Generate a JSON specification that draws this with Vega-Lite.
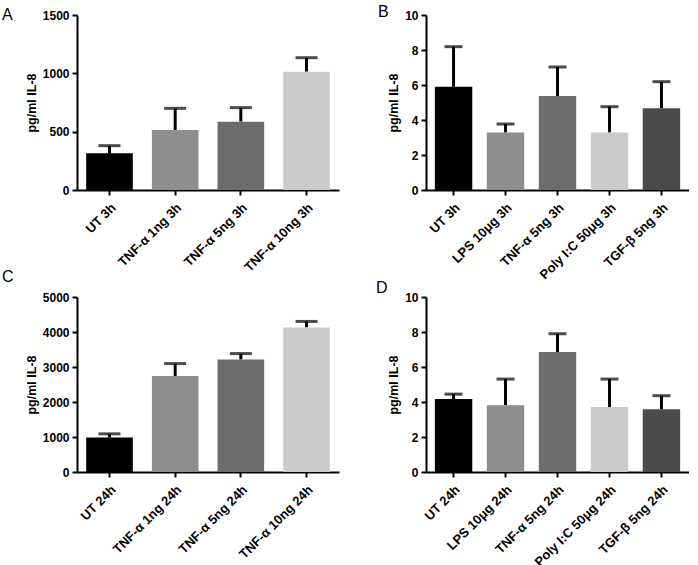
{
  "$schema": "https://vega.github.io/schema/vega-lite/v6.json",
  "padding": {"left": 2, "top": 4, "right": 0, "bottom": 0},
  "background": "white",
  "spacing": {"row": -13, "column": 37},
  "config": {
    "font": "Liberation Sans",
    "view": {"stroke": null},
    "axis": {
      "domainColor": "black", "domainWidth": 2, "tickColor": "black", "tickWidth": 2, "tickSize": 5,
      "labelFont": "Liberation Sans", "labelFontWeight": "bold", "labelFontSize": 12, "labelColor": "black",
      "labelOverlap": false, "labelPadding": 3,
      "titleFont": "Liberation Sans", "titleFontWeight": "bold", "titleFontSize": 12.5, "titleColor": "black",
      "grid": false
    },
    "axisX": {"labelFontSize": 13, "labelPadding": 6},
    "title": {"font": "Liberation Sans", "fontWeight": "normal", "fontSize": 16, "color": "black", "anchor": "start", "frame": "group", "offset": -14}
  },
  "datasets": {
    "A": [
      {"label": "UT 3h", "mean": 314, "upper": 380},
      {"label": "TNF-α 1ng 3h", "mean": 514, "upper": 700},
      {"label": "TNF-α 5ng 3h", "mean": 586, "upper": 706},
      {"label": "TNF-α 10ng 3h", "mean": 1014, "upper": 1134}
    ],
    "B": [
      {"label": "UT 3h", "mean": 5.9, "upper": 8.19},
      {"label": "LPS 10μg 3h", "mean": 3.28, "upper": 3.77},
      {"label": "TNF-α 5ng 3h", "mean": 5.37, "upper": 7.03},
      {"label": "Poly I:C 50μg 3h", "mean": 3.28, "upper": 4.76},
      {"label": "TGF-β 5ng 3h", "mean": 4.67, "upper": 6.19}
    ],
    "C": [
      {"label": "UT 24h", "mean": 985, "upper": 1090},
      {"label": "TNF-α 1ng 24h", "mean": 2744, "upper": 3098},
      {"label": "TNF-α 5ng 24h", "mean": 3212, "upper": 3384},
      {"label": "TNF-α 10ng 24h", "mean": 4130, "upper": 4302}
    ],
    "D": [
      {"label": "UT 24h", "mean": 4.17, "upper": 4.45},
      {"label": "LPS 10μg 24h", "mean": 3.82, "upper": 5.31},
      {"label": "TNF-α 5ng 24h", "mean": 6.86, "upper": 7.9},
      {"label": "Poly I:C 50μg 24h", "mean": 3.71, "upper": 5.31},
      {"label": "TGF-β 5ng 24h", "mean": 3.58, "upper": 4.36}
    ]
  },
  "columns": 2,
  "resolve": {"scale": {"color": "independent", "x": "independent", "y": "independent"}},
  "concat": [
    {
      "width": 262, "height": 175,
      "title": {"text": "A", "dx": -75, "offset": -14},
      "data": {"name": "A"},
      "encoding": {
        "x": {"field": "label", "type": "nominal", "sort": null, "title": null,
              "scale": {"paddingInner": 0.29, "paddingOuter": 0.14},
              "axis": {"labelAngle": -45}},
        "y": {"field": "mean", "type": "quantitative", "title": "pg/ml IL-8",
              "scale": {"domain": [0, 1500], "nice": false},
              "axis": {"values": [0, 500, 1000, 1500], "format": "d"}}
      },
      "layer": [
        {"mark": {"type": "rule", "strokeWidth": 3, "color": "black"},
         "encoding": {"y2": {"field": "upper"}}},
        {"mark": {"type": "tick", "thickness": 3, "size": 22, "color": "black"},
         "encoding": {"y": {"field": "upper", "type": "quantitative", "title": "pg/ml IL-8",
              "scale": {"domain": [0, 1500], "nice": false},
              "axis": {"values": [0, 500, 1000, 1500], "format": "d"}}}},
        {"mark": {"type": "bar"},
         "encoding": {
           "color": {"field": "label", "type": "nominal", "legend": null, "sort": null,
                     "scale": {"domain": ["UT 3h", "TNF-α 1ng 3h", "TNF-α 5ng 3h", "TNF-α 10ng 3h"],
                               "range": ["#000000", "#8e8e8e", "#6c6c6c", "#cbcbcb"]}}
         }}
      ]
    },
    {
      "width": 263, "height": 175,
      "title": {"text": "B", "dx": -48, "offset": -11},
      "data": {"name": "B"},
      "encoding": {
        "x": {"field": "label", "type": "nominal", "sort": null, "title": null,
              "scale": {"paddingInner": 0.28, "paddingOuter": 0.17},
              "axis": {"labelAngle": -45}},
        "y": {"field": "mean", "type": "quantitative", "title": "pg/ml IL-8",
              "scale": {"domain": [0, 10], "nice": false},
              "axis": {"values": [0, 2, 4, 6, 8, 10], "format": "d"}}
      },
      "layer": [
        {"mark": {"type": "rule", "strokeWidth": 3, "color": "black"},
         "encoding": {"y2": {"field": "upper"}}},
        {"mark": {"type": "tick", "thickness": 3, "size": 18, "color": "black"},
         "encoding": {"y": {"field": "upper", "type": "quantitative", "title": "pg/ml IL-8",
              "scale": {"domain": [0, 10], "nice": false},
              "axis": {"values": [0, 2, 4, 6, 8, 10], "format": "d"}}}},
        {"mark": {"type": "bar"},
         "encoding": {
           "color": {"field": "label", "type": "nominal", "legend": null, "sort": null,
                     "scale": {"domain": ["UT 3h", "LPS 10μg 3h", "TNF-α 5ng 3h", "Poly I:C 50μg 3h", "TGF-β 5ng 3h"],
                               "range": ["#000000", "#8e8e8e", "#6c6c6c", "#cbcbcb", "#4b4b4b"]}}
         }}
      ]
    },
    {
      "width": 262, "height": 175,
      "title": {"text": "C", "dx": -75, "offset": 6},
      "data": {"name": "C"},
      "encoding": {
        "x": {"field": "label", "type": "nominal", "sort": null, "title": null,
              "scale": {"paddingInner": 0.29, "paddingOuter": 0.14},
              "axis": {"labelAngle": -45}},
        "y": {"field": "mean", "type": "quantitative", "title": "pg/ml IL-8",
              "scale": {"domain": [0, 5000], "nice": false},
              "axis": {"values": [0, 1000, 2000, 3000, 4000, 5000], "format": "d"}}
      },
      "layer": [
        {"mark": {"type": "rule", "strokeWidth": 3, "color": "black"},
         "encoding": {"y2": {"field": "upper"}}},
        {"mark": {"type": "tick", "thickness": 3, "size": 22, "color": "black"},
         "encoding": {"y": {"field": "upper", "type": "quantitative", "title": "pg/ml IL-8",
              "scale": {"domain": [0, 5000], "nice": false},
              "axis": {"values": [0, 1000, 2000, 3000, 4000, 5000], "format": "d"}}}},
        {"mark": {"type": "bar"},
         "encoding": {
           "color": {"field": "label", "type": "nominal", "legend": null, "sort": null,
                     "scale": {"domain": ["UT 24h", "TNF-α 1ng 24h", "TNF-α 5ng 24h", "TNF-α 10ng 24h"],
                               "range": ["#000000", "#8e8e8e", "#6c6c6c", "#cbcbcb"]}}
         }}
      ]
    },
    {
      "width": 263, "height": 175,
      "title": {"text": "D", "dx": -50, "offset": -5},
      "data": {"name": "D"},
      "encoding": {
        "x": {"field": "label", "type": "nominal", "sort": null, "title": null,
              "scale": {"paddingInner": 0.28, "paddingOuter": 0.17},
              "axis": {"labelAngle": -45}},
        "y": {"field": "mean", "type": "quantitative", "title": "pg/ml IL-8",
              "scale": {"domain": [0, 10], "nice": false},
              "axis": {"values": [0, 2, 4, 6, 8, 10], "format": "d"}}
      },
      "layer": [
        {"mark": {"type": "rule", "strokeWidth": 3, "color": "black"},
         "encoding": {"y2": {"field": "upper"}}},
        {"mark": {"type": "tick", "thickness": 3, "size": 18, "color": "black"},
         "encoding": {"y": {"field": "upper", "type": "quantitative", "title": "pg/ml IL-8",
              "scale": {"domain": [0, 10], "nice": false},
              "axis": {"values": [0, 2, 4, 6, 8, 10], "format": "d"}}}},
        {"mark": {"type": "bar"},
         "encoding": {
           "color": {"field": "label", "type": "nominal", "legend": null, "sort": null,
                     "scale": {"domain": ["UT 24h", "LPS 10μg 24h", "TNF-α 5ng 24h", "Poly I:C 50μg 24h", "TGF-β 5ng 24h"],
                               "range": ["#000000", "#8e8e8e", "#6c6c6c", "#cbcbcb", "#4b4b4b"]}}
         }}
      ]
    }
  ]
}
